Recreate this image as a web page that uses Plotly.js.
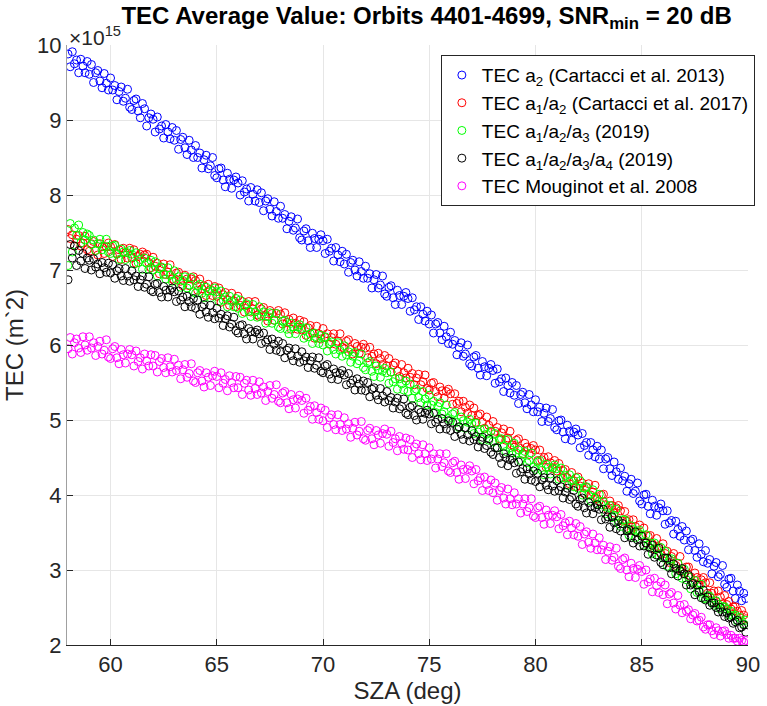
<!DOCTYPE html>
<html>
<head>
<meta charset="utf-8">
<script src="https://cdn.plot.ly/plotly-3.0.1.min.js"></script>
<style>html,body{margin:0;padding:0;background:#fff;}#chart{width:767px;height:706px;}</style>
</head>
<body>
<div id="chart"></div>
<script>
// SZA (deg)
const sza = [
58.0,58.1,58.2,58.3,58.4,58.5,58.6,58.7,58.8,58.9,
59.0,59.1,59.2,59.3,59.4,59.5,59.6,59.7,59.8,59.9,
60.0,60.1,60.2,60.3,60.4,60.5,60.6,60.7,60.8,60.9,
61.0,61.1,61.2,61.3,61.4,61.5,61.6,61.7,61.8,61.9,
62.0,62.1,62.2,62.3,62.4,62.5,62.6,62.7,62.8,62.9,
63.0,63.1,63.2,63.3,63.4,63.5,63.6,63.7,63.8,63.9,
64.0,64.1,64.2,64.3,64.4,64.5,64.6,64.7,64.8,64.9,
65.0,65.1,65.2,65.3,65.4,65.5,65.6,65.7,65.8,65.9,
66.0,66.1,66.2,66.3,66.4,66.5,66.6,66.7,66.8,66.9,
67.0,67.1,67.2,67.3,67.4,67.5,67.6,67.7,67.8,67.9,
68.0,68.1,68.2,68.3,68.4,68.5,68.6,68.7,68.8,68.9,
69.0,69.1,69.2,69.3,69.4,69.5,69.6,69.7,69.8,69.9,
70.0,70.1,70.2,70.3,70.4,70.5,70.6,70.7,70.8,70.9,
71.0,71.1,71.2,71.3,71.4,71.5,71.6,71.7,71.8,71.9,
72.0,72.1,72.2,72.3,72.4,72.5,72.6,72.7,72.8,72.9,
73.0,73.1,73.2,73.3,73.4,73.5,73.6,73.7,73.8,73.9,
74.0,74.1,74.2,74.3,74.4,74.5,74.6,74.7,74.8,74.9,
75.0,75.1,75.2,75.3,75.4,75.5,75.6,75.7,75.8,75.9,
76.0,76.1,76.2,76.3,76.4,76.5,76.6,76.7,76.8,76.9,
77.0,77.1,77.2,77.3,77.4,77.5,77.6,77.7,77.8,77.9,
78.0,78.1,78.2,78.3,78.4,78.5,78.6,78.7,78.8,78.9,
79.0,79.1,79.2,79.3,79.4,79.5,79.6,79.7,79.8,79.9,
80.0,80.1,80.2,80.3,80.4,80.5,80.6,80.7,80.8,80.9,
81.0,81.1,81.2,81.3,81.4,81.5,81.6,81.7,81.8,81.9,
82.0,82.1,82.2,82.3,82.4,82.5,82.6,82.7,82.8,82.9,
83.0,83.1,83.2,83.3,83.4,83.5,83.6,83.7,83.8,83.9,
84.0,84.1,84.2,84.3,84.4,84.5,84.6,84.7,84.8,84.9,
85.0,85.1,85.2,85.3,85.4,85.5,85.6,85.7,85.8,85.9,
86.0,86.1,86.2,86.3,86.4,86.5,86.6,86.7,86.8,86.9,
87.0,87.1,87.2,87.3,87.4,87.5,87.6,87.7,87.8,87.9,
88.0,88.1,88.2,88.3,88.4,88.5,88.6,88.7,88.8,88.9,
89.0,89.1,89.2,89.3,89.4,89.5,89.6,89.7,89.8,89.9];

// TEC values in units of 1e15 m^-2 (one row per degree of SZA)
const tecA2 = [
9.88,9.71,9.91,9.75,9.80,9.63,9.81,9.72,9.63,9.78,
9.61,9.74,9.50,9.63,9.66,9.52,9.43,9.62,9.49,9.40,
9.56,9.40,9.46,9.27,9.38,9.44,9.25,9.29,9.41,9.17,
9.14,9.26,9.28,9.12,9.03,9.22,9.15,8.92,9.03,9.08,
9.01,8.84,9.04,8.88,8.92,8.76,8.94,8.84,8.75,8.90,
8.73,8.86,8.61,8.74,8.77,8.63,8.54,8.73,8.60,8.50,
8.66,8.50,8.56,8.36,8.47,8.53,8.35,8.39,8.50,8.26,
8.23,8.35,8.36,8.20,8.11,8.29,8.21,8.09,8.20,8.24,
8.16,8.00,8.19,8.04,8.08,7.92,8.10,8.01,7.92,8.07,
7.90,8.03,7.79,7.92,7.95,7.81,7.72,7.91,7.78,7.69,
7.85,7.69,7.74,7.55,7.65,7.71,7.53,7.56,7.68,7.43,
7.40,7.52,7.55,7.39,7.30,7.49,7.42,7.30,7.41,7.47,
7.39,7.22,7.41,7.25,7.29,7.12,7.30,7.20,7.11,7.25,
7.08,7.21,6.97,7.10,7.13,7.00,6.92,7.11,6.98,6.89,
7.05,6.89,6.95,6.76,6.87,6.94,6.76,6.80,6.92,6.68,
6.65,6.77,6.79,6.63,6.54,6.73,6.66,6.54,6.65,6.70,
6.62,6.45,6.63,6.47,6.51,6.34,6.51,6.41,6.32,6.45,
6.28,6.40,6.16,6.28,6.30,6.16,6.07,6.25,6.11,6.02,
6.17,6.01,6.06,5.87,5.97,6.03,5.85,5.88,6.00,5.75,
5.72,5.84,5.86,5.69,5.60,5.78,5.71,5.59,5.69,5.74,
5.66,5.49,5.68,5.51,5.55,5.38,5.56,5.46,5.36,5.50,
5.33,5.46,5.22,5.34,5.37,5.23,5.15,5.34,5.20,5.11,
5.27,5.11,5.17,4.98,5.09,5.16,4.98,5.02,5.14,4.90,
4.87,4.99,5.00,4.84,4.75,4.93,4.85,4.73,4.84,4.88,
4.80,4.63,4.82,4.66,4.70,4.53,4.70,4.60,4.51,4.65,
4.48,4.60,4.35,4.48,4.50,4.35,4.26,4.44,4.31,4.21,
4.36,4.19,4.25,4.05,4.15,4.21,4.02,4.05,4.16,3.92,
3.88,4.00,4.01,3.85,3.75,3.93,3.85,3.73,3.83,3.88,
3.79,3.61,3.79,3.63,3.66,3.48,3.65,3.54,3.45,3.58,
3.40,3.52,3.27,3.39,3.41,3.26,3.17,3.35,3.21,3.11,
3.26,3.09,3.14,2.95,3.05,3.10,2.91,2.94,3.06,2.81,
2.77,2.88,2.89,2.72,2.62,2.80,2.72,2.59,2.69,2.62];

const tecA1A2 = [
7.54,7.42,7.47,7.32,7.41,7.46,7.32,7.36,7.45,7.27,
7.25,7.35,7.38,7.26,7.20,7.35,7.31,7.22,7.31,7.36,
7.31,7.18,7.34,7.22,7.27,7.14,7.29,7.23,7.16,7.29,
7.16,7.27,7.09,7.18,7.21,7.24,7.20,7.21,7.10,7.03,
7.17,7.05,7.09,6.95,7.03,7.08,6.94,6.97,7.07,6.88,
6.86,6.96,6.97,6.85,6.79,6.93,6.88,6.79,6.88,6.91,
6.86,6.73,6.88,6.75,6.79,6.66,6.81,6.74,6.66,6.78,
6.65,6.76,6.57,6.67,6.70,6.60,6.53,6.69,6.59,6.51,
6.65,6.53,6.58,6.44,6.53,6.58,6.44,6.48,6.58,6.40,
6.38,6.48,6.50,6.38,6.32,6.46,6.42,6.33,6.42,6.46,
6.41,6.28,6.43,6.30,6.34,6.21,6.36,6.29,6.21,6.33,
6.20,6.31,6.13,6.23,6.26,6.16,6.09,6.25,6.15,6.08,
6.22,6.10,6.15,6.01,6.10,6.15,6.01,6.05,6.15,5.97,
5.95,6.05,6.07,5.94,5.88,6.02,5.98,5.89,5.97,6.01,
5.96,5.83,5.97,5.85,5.88,5.75,5.89,5.82,5.74,5.86,
5.72,5.82,5.64,5.73,5.76,5.65,5.58,5.74,5.63,5.56,
5.69,5.57,5.62,5.47,5.56,5.61,5.47,5.51,5.60,5.42,
5.40,5.49,5.50,5.38,5.31,5.44,5.39,5.29,5.38,5.41,
5.35,5.21,5.35,5.22,5.25,5.11,5.25,5.17,5.09,5.20,
5.06,5.16,4.97,5.06,5.08,4.97,4.89,5.04,4.93,4.85,
4.98,4.85,4.90,4.75,4.83,4.88,4.73,4.76,4.85,4.67,
4.64,4.73,4.75,4.62,4.55,4.69,4.64,4.54,4.62,4.66,
4.60,4.46,4.60,4.47,4.50,4.37,4.51,4.43,4.35,4.46,
4.32,4.42,4.23,4.32,4.34,4.23,4.15,4.30,4.19,4.11,
4.24,4.12,4.16,4.02,4.10,4.15,4.00,4.04,4.13,3.95,
3.92,4.00,4.01,3.87,3.80,3.92,3.86,3.76,3.83,3.86,
3.79,3.65,3.78,3.65,3.67,3.53,3.67,3.58,3.50,3.60,
3.46,3.56,3.36,3.45,3.46,3.35,3.28,3.42,3.31,3.22,
3.35,3.22,3.25,3.10,3.18,3.22,3.06,3.09,3.18,2.98,
2.95,3.04,3.04,2.91,2.83,2.96,2.90,2.80,2.87,2.90,
2.83,2.69,2.83,2.69,2.72,2.58,2.72,2.64,2.55,2.66,
2.54,2.58,2.48,2.51,2.51,2.45,2.40,2.46,2.40,2.35];

const tecA1A2A3 = [
7.06,7.62,7.24,7.56,7.46,7.60,7.36,7.50,7.40,7.48,
7.46,7.34,7.40,7.26,7.35,7.41,7.27,7.31,7.41,7.24,
7.22,7.32,7.33,7.21,7.14,7.28,7.24,7.14,7.23,7.26,
7.21,7.08,7.23,7.10,7.14,7.01,7.16,7.09,7.01,7.13,
7.00,7.11,6.92,7.02,7.04,6.94,6.88,7.03,6.93,6.85,
6.99,6.87,6.91,6.77,6.86,6.91,6.76,6.80,6.90,6.71,
6.69,6.79,6.81,6.69,6.63,6.77,6.72,6.63,6.72,6.76,
6.71,6.58,6.72,6.60,6.64,6.51,6.65,6.58,6.51,6.62,
6.49,6.60,6.42,6.52,6.55,6.45,6.38,6.54,6.44,6.37,
6.51,6.39,6.44,6.29,6.38,6.43,6.29,6.33,6.42,6.24,
6.22,6.32,6.33,6.21,6.15,6.29,6.24,6.15,6.24,6.27,
6.22,6.09,6.23,6.11,6.15,6.02,6.16,6.09,6.02,6.13,
6.00,6.11,5.92,6.02,6.04,5.94,5.88,6.03,5.93,5.85,
5.99,5.87,5.91,5.77,5.85,5.90,5.75,5.79,5.88,5.70,
5.67,5.76,5.78,5.65,5.58,5.72,5.67,5.57,5.65,5.69,
5.63,5.49,5.64,5.51,5.55,5.41,5.55,5.48,5.40,5.52,
5.38,5.48,5.29,5.39,5.41,5.30,5.23,5.38,5.28,5.20,
5.33,5.20,5.25,5.10,5.18,5.23,5.08,5.11,5.20,5.02,
4.99,5.08,5.10,4.97,4.90,5.04,4.99,4.89,4.97,5.01,
4.95,4.82,4.96,4.84,4.87,4.74,4.88,4.81,4.73,4.85,
4.71,4.82,4.63,4.73,4.75,4.65,4.58,4.74,4.63,4.56,
4.69,4.56,4.60,4.46,4.54,4.58,4.43,4.46,4.56,4.37,
4.34,4.44,4.46,4.33,4.27,4.41,4.37,4.28,4.36,4.40,
4.35,4.21,4.36,4.23,4.26,4.13,4.27,4.19,4.11,4.23,
4.09,4.19,4.00,4.09,4.11,4.00,3.92,4.07,3.96,3.88,
4.01,3.87,3.91,3.75,3.83,3.86,3.70,3.73,3.81,3.62,
3.58,3.67,3.67,3.54,3.46,3.59,3.54,3.43,3.51,3.53,
3.47,3.33,3.47,3.33,3.36,3.22,3.36,3.28,3.19,3.30,
3.16,3.25,3.05,3.14,3.15,3.03,2.95,3.09,2.98,2.89,
3.01,2.87,2.91,2.75,2.83,2.86,2.70,2.73,2.81,2.62,
2.62,2.66,2.65,2.58,2.53,2.59,2.54,2.48,2.51,2.51,
2.48,2.40,2.45,2.39,2.40,2.32,2.37,2.32,2.28,2.33];

const tecA1A2A3A4 = [
6.87,7.34,7.16,7.32,7.06,7.26,7.12,7.22,7.02,7.16,
7.13,7.00,7.15,7.04,7.08,6.95,7.10,7.03,6.97,7.09,
6.96,7.07,6.89,6.99,7.02,6.92,6.86,7.02,6.92,6.85,
6.99,6.87,6.92,6.78,6.87,6.92,6.77,6.81,6.91,6.73,
6.71,6.81,6.82,6.70,6.64,6.78,6.73,6.64,6.73,6.76,
6.71,6.58,6.72,6.60,6.64,6.51,6.65,6.58,6.51,6.62,
6.49,6.60,6.41,6.51,6.54,6.44,6.37,6.53,6.43,6.35,
6.49,6.36,6.41,6.26,6.35,6.39,6.24,6.28,6.37,6.19,
6.16,6.26,6.27,6.15,6.08,6.22,6.18,6.08,6.17,6.20,
6.15,6.02,6.16,6.04,6.07,5.94,6.08,6.01,5.93,6.05,
5.91,6.02,5.83,5.93,5.96,5.86,5.79,5.95,5.85,5.77,
5.91,5.79,5.84,5.70,5.79,5.84,5.69,5.73,5.83,5.65,
5.63,5.72,5.74,5.61,5.55,5.68,5.63,5.54,5.62,5.66,
5.60,5.47,5.62,5.49,5.53,5.40,5.55,5.48,5.40,5.52,
5.39,5.50,5.31,5.41,5.43,5.33,5.27,5.42,5.32,5.24,
5.38,5.26,5.30,5.16,5.24,5.29,5.15,5.18,5.28,5.09,
5.07,5.17,5.19,5.06,5.00,5.14,5.10,5.01,5.09,5.13,
5.08,4.95,5.09,4.97,5.01,4.88,5.02,4.95,4.88,4.99,
4.86,4.97,4.78,4.88,4.91,4.81,4.74,4.90,4.80,4.72,
4.86,4.74,4.78,4.64,4.72,4.77,4.62,4.66,4.75,4.57,
4.54,4.63,4.63,4.50,4.42,4.55,4.50,4.39,4.47,4.49,
4.43,4.29,4.44,4.31,4.35,4.21,4.35,4.28,4.20,4.32,
4.18,4.29,4.11,4.20,4.23,4.13,4.07,4.23,4.12,4.05,
4.19,4.06,4.11,3.96,4.04,4.09,3.94,3.97,4.06,3.88,
3.85,3.94,3.96,3.83,3.76,3.90,3.85,3.75,3.83,3.87,
3.81,3.67,3.81,3.68,3.71,3.57,3.71,3.63,3.55,3.66,
3.52,3.62,3.43,3.52,3.54,3.43,3.36,3.51,3.40,3.32,
3.45,3.32,3.36,3.21,3.29,3.33,3.17,3.20,3.29,3.10,
3.07,3.16,3.16,3.03,2.95,3.08,3.02,2.92,2.99,3.02,
2.95,2.80,2.93,2.80,2.82,2.67,2.80,2.71,2.63,2.73,
2.60,2.64,2.53,2.56,2.56,2.50,2.44,2.50,2.44,2.38,
2.43,2.36,2.37,2.29,2.31,2.33,2.23,2.24,2.27,2.17];

const tecMouginot = [
5.95,6.10,5.88,6.03,6.08,5.96,5.90,6.11,6.00,5.93,
6.11,5.96,6.03,5.86,5.98,6.05,5.88,5.93,6.07,5.84,
5.82,5.95,5.98,5.83,5.75,5.94,5.87,5.76,5.88,5.94,
5.87,5.72,5.92,5.78,5.83,5.68,5.88,5.79,5.72,5.87,
5.72,5.86,5.64,5.78,5.82,5.70,5.63,5.83,5.71,5.64,
5.81,5.66,5.73,5.55,5.67,5.74,5.57,5.62,5.75,5.52,
5.50,5.63,5.66,5.52,5.44,5.63,5.57,5.46,5.59,5.65,
5.58,5.43,5.63,5.49,5.54,5.39,5.59,5.50,5.43,5.58,
5.43,5.57,5.34,5.49,5.53,5.40,5.33,5.53,5.42,5.34,
5.51,5.36,5.44,5.26,5.38,5.46,5.29,5.34,5.47,5.25,
5.23,5.36,5.38,5.23,5.15,5.34,5.27,5.16,5.28,5.33,
5.26,5.09,5.29,5.13,5.18,5.01,5.19,5.10,5.01,5.16,
4.99,5.13,4.90,5.03,5.07,4.94,4.87,5.07,4.94,4.86,
5.03,4.88,4.95,4.77,4.89,4.97,4.80,4.85,4.98,4.75,
4.73,4.86,4.89,4.75,4.67,4.86,4.80,4.69,4.82,4.88,
4.81,4.65,4.85,4.70,4.75,4.59,4.78,4.69,4.61,4.76,
4.60,4.74,4.50,4.64,4.68,4.55,4.47,4.67,4.55,4.46,
4.63,4.48,4.55,4.36,4.48,4.55,4.38,4.43,4.55,4.32,
4.30,4.43,4.45,4.30,4.21,4.40,4.34,4.22,4.34,4.39,
4.32,4.15,4.34,4.19,4.23,4.06,4.24,4.14,4.06,4.20,
4.03,4.16,3.93,4.06,4.10,3.96,3.88,4.08,3.95,3.87,
4.03,3.88,3.95,3.76,3.88,3.95,3.78,3.83,3.95,3.72,
3.70,3.83,3.85,3.70,3.61,3.80,3.73,3.62,3.73,3.79,
3.71,3.55,3.74,3.59,3.63,3.47,3.65,3.56,3.47,3.62,
3.45,3.58,3.34,3.48,3.51,3.37,3.29,3.48,3.36,3.27,
3.43,3.27,3.33,3.14,3.25,3.31,3.13,3.17,3.29,3.05,
3.02,3.14,3.16,3.00,2.91,3.09,3.02,2.90,3.01,3.06,
2.98,2.81,3.00,2.84,2.88,2.71,2.89,2.79,2.70,2.84,
2.67,2.80,2.55,2.68,2.70,2.56,2.48,2.66,2.53,2.43,
2.54,2.45,2.47,2.35,2.40,2.42,2.32,2.33,2.37,2.24,
2.21,2.27,2.27,2.19,2.14,2.23,2.19,2.12,2.18,2.19,
2.14,2.09,2.13,2.09,2.09,2.05,2.09,2.06,2.04,2.06];

const seriesNames = [
  'TEC a<sub>2</sub> (Cartacci et al. 2013)',
  'TEC a<sub>1</sub>/a<sub>2</sub> (Cartacci et al. 2017)',
  'TEC a<sub>1</sub>/a<sub>2</sub>/a<sub>3</sub> (2019)',
  'TEC a<sub>1</sub>/a<sub>2</sub>/a<sub>3</sub>/a<sub>4</sub> (2019)',
  'TEC Mouginot et al. 2008'
];
const seriesColors = ['#0000ff', '#ff0000', '#00ff00', '#000000', '#ff00ff'];
const seriesValues = [tecA2, tecA1A2, tecA1A2A3, tecA1A2A3A4, tecMouginot];
const yTicks = [2, 3, 4, 5, 6, 7, 8, 9, 10];
const xTicks = [60, 65, 70, 75, 80, 85, 90];

const FONT = 'Liberation Sans, Arial, Helvetica, sans-serif';
const traces = seriesValues.map((vals, i) => ({
  type: 'scatter', mode: 'markers', x: sza, y: vals, name: seriesNames[i],
  marker: {symbol: 'circle-open', size: 8, color: seriesColors[i], line: {width: 1, color: seriesColors[i]}}
}));

const layout = {
  width: 767, height: 706,
  margin: {l: 67, r: 12, t: 45, b: 61},
  paper_bgcolor: '#ffffff', plot_bgcolor: '#ffffff',
  font: {family: FONT, color: '#262626', size: 22},
  title: {
    text: '<b>TEC Average Value: Orbits 4401-4699, SNR<sub>min</sub> = 20 dB</b>',
    font: {family: FONT, size: 24, color: '#000000'},
    xref: 'paper', x: 0.528, xanchor: 'center',
    yref: 'container', y: 0.978, yanchor: 'middle'
  },
  xaxis: {
    range: [57.95, 90], tickvals: xTicks, ticktext: xTicks.map(String),
    showgrid: true, gridcolor: '#e6e6e6', gridwidth: 1,
    zeroline: false, showline: true, linecolor: '#262626', linewidth: 1,
    ticks: 'inside', ticklen: 6, tickcolor: '#262626',
    tickfont: {family: FONT, size: 22, color: '#262626'},
    title: {text: 'SZA (deg)', font: {family: FONT, size: 24, color: '#262626'}, standoff: 4}
  },
  yaxis: {
    range: [2, 10], tickvals: yTicks, ticktext: yTicks.map(String),
    showgrid: true, gridcolor: '#e6e6e6', gridwidth: 1,
    zeroline: false, showline: true, linecolor: '#a0a0a0', linewidth: 1,
    ticks: 'inside', ticklen: 6, tickcolor: '#262626',
    tickfont: {family: FONT, size: 22, color: '#262626'},
    title: {text: 'TEC (m`2)', font: {family: FONT, size: 24, color: '#262626'}, standoff: 6}
  },
  legend: {
    x: 0.549, y: 0.983, xanchor: 'left', yanchor: 'top',
    bgcolor: '#ffffff', bordercolor: '#262626', borderwidth: 1,
    font: {family: FONT, size: 19, color: '#000000'},
    itemwidth: 30, tracegroupgap: 0
  },
  annotations: [{
    xref: 'paper', yref: 'paper', x: 0, y: 1, xanchor: 'left', yanchor: 'bottom',
    text: '×10<sup>15</sup>', showarrow: false,
    font: {family: FONT, size: 21, color: '#262626'}, yshift: -6
  }],
  showlegend: true
};

Plotly.newPlot('chart', traces, layout, {displayModeBar: false, staticPlot: true});
</script>
</body>
</html>
